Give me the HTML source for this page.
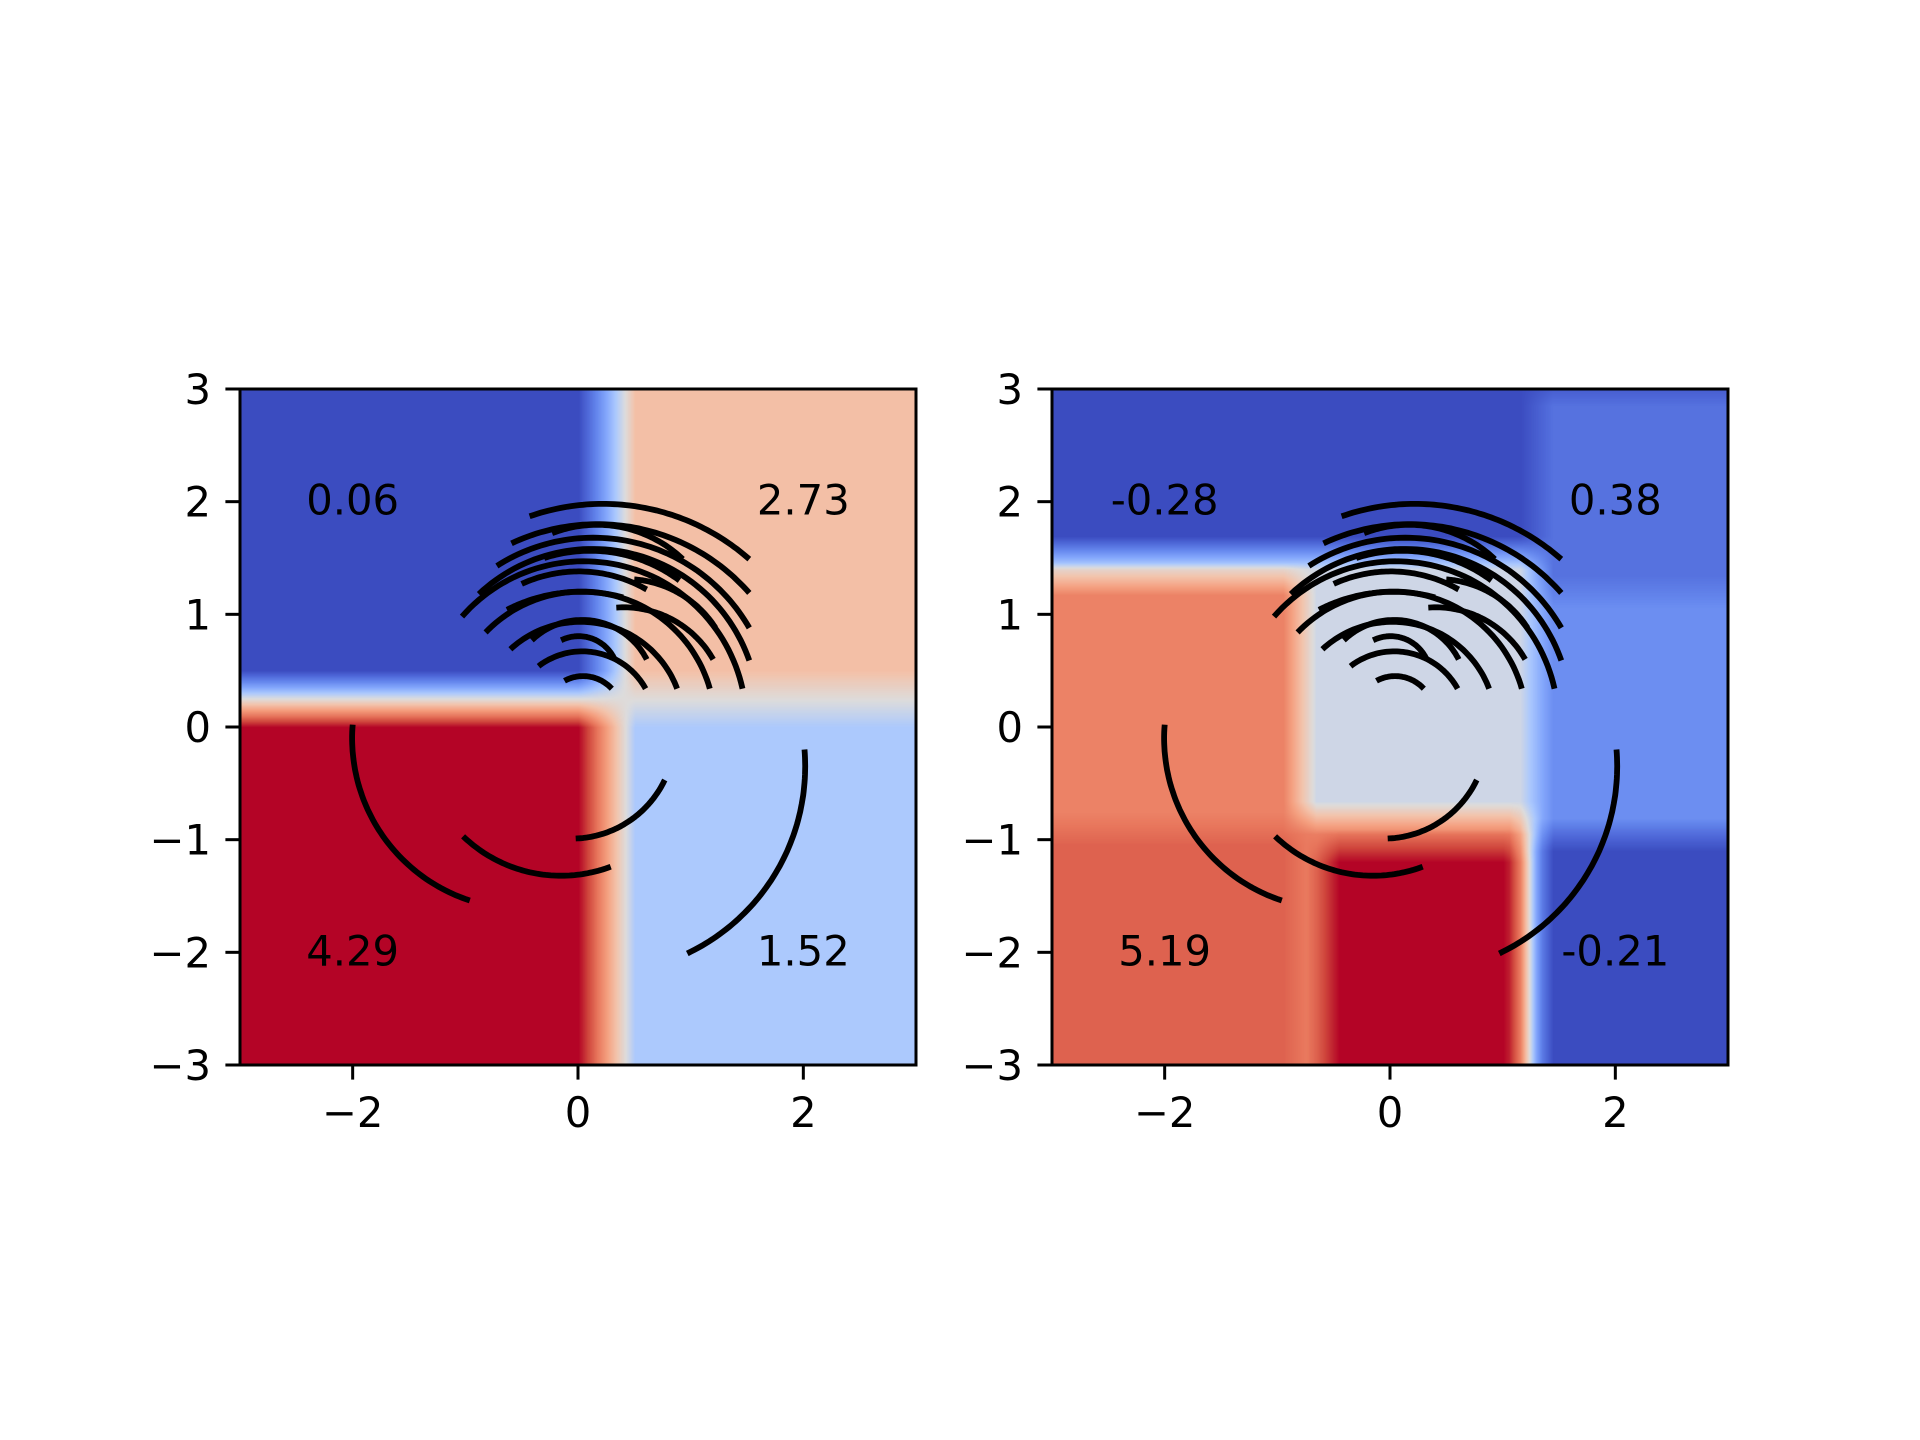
<!DOCTYPE html>
<html><head><meta charset="utf-8">
<style>
html,body{margin:0;padding:0;background:#fff;}
#wrap{position:relative;width:1920px;height:1440px;overflow:hidden;background:#fff;}
canvas{position:absolute;}
svg{position:absolute;left:0;top:0;}
text{font-family:"DejaVu Sans","Liberation Sans",sans-serif;font-size:41.7px;fill:#000;}
</style></head>
<body>
<div id="wrap">
<canvas id="c1" width="676" height="676" style="left:240px;top:389px"></canvas>
<canvas id="c2" width="676" height="676" style="left:1052px;top:389px"></canvas>
<svg id="svg" width="1920" height="1440"></svg>
</div>
<script>
// ---- data ----
const xTicks = [-2, 0, 2];
const yTicks = [-3, -2, -1, 0, 1, 2, 3];
const leftLabels = ["0.06", "2.73", "4.29", "1.52"];
const rightLabels = ["-0.28", "0.38", "5.19", "-0.21"];
const labelX = [-2, 2, -2, 2];
const labelY = [2, 2, -2, -2];
// left heatmap: quadrant normalized values (TL, TR, BL, BR) and split point
const leftQuadT = [0.0, 0.61, 1.0, 0.4];
const leftSplit = [0.25, 0.25];
// right heatmap: regions [x1,x2,y1,y2,t] painted in order
const rightRegions = [
  [-3, 3, -3, 3, 0.0],
  [-3, 1.3, -3, 1.55, 0.47],
  [-3, -0.8, -3, 1.32, 0.77],
  [-3, -0.8, -3, -0.9, 0.84],
  [-0.8, 1.2, -3, -0.8, 0.77],
  [-0.6, 1.15, -3, -1.05, 1.0],
  [1.3, 3, -0.95, 3, 0.13],
  [1.3, 3, -0.95, 1.2, 0.22]
];
// arcs: start, middle, end points in data coords
const arcStart = [[-2.0,0.02],[-1.02,-0.97],[-0.02,-0.99],[2.01,-0.2],
  [-0.12,0.41],[-0.35,0.54],[-0.60,0.69],[-0.82,0.84],[-1.03,0.98],
  [-0.88,1.18],[-0.72,1.43],[-0.59,1.63],[-0.43,1.87],
  [-0.41,0.77],[-0.15,0.77],[0.34,1.06],[-0.5,1.27],[0.5,1.31],[-0.23,1.72],[-0.63,1.04],[-0.3,1.5]];
const arcMid = [[-1.77,-0.91],[-0.14,-1.32],[0.54,-0.77],[1.77,-1.27],
  [0.08,0.45],[0.08,0.67],[0.1,0.93],[0.1,1.2],[0.1,1.47],
  [0.15,1.58],[0.15,1.68],[0.15,1.80],[0.18,1.98],
  [0.05,0.95],[0.07,0.80],[0.91,0.91],[0.05,1.38],[0.91,1.18],[0.27,1.79],[0.0,1.2],[0.3,1.55]];
const arcEnd = [[-0.96,-1.54],[0.29,-1.24],[0.77,-0.47],[0.97,-2.01],
  [0.3,0.34],[0.6,0.34],[0.88,0.34],[1.17,0.34],[1.46,0.34],
  [1.52,0.59],[1.52,0.88],[1.52,1.19],[1.52,1.49],
  [0.61,0.6],[0.32,0.61],[1.2,0.6],[0.61,1.22],[1.22,0.88],[0.93,1.49],[0.4,1.15],[0.9,1.3]];

// ---- geometry ----
const AX = [240, 1052], AY = 389, AS = 676;
const sx = (i, x) => AX[i] + (x + 3) / 6 * AS;
const sy = y => AY + (3 - y) / 6 * AS;

const cw = [[0,59,76,192],[0.1,79,105,217],[0.2,102,136,238],[0.3,132,167,252],[0.4,172,201,253],
  [0.5,221,220,220],[0.6,243,195,171],[0.7,244,158,126],[0.8,232,118,92],[0.9,207,69,60],[1,180,4,38]];
function cmap(t){
  t=Math.max(0,Math.min(1,t));
  for(let k=1;k<cw.length;k++){ if(t<=cw[k][0]){const a=cw[k-1],b=cw[k],f=(t-a[0])/(b[0]-a[0]);
    return [a[1]+f*(b[1]-a[1]),a[2]+f*(b[2]-a[2]),a[3]+f*(b[3]-a[3])];}}
  return cw[cw.length-1].slice(1);
}
function blur(arr,n,r){
  const tmp=new Float32Array(n*n), out=new Float32Array(n*n);
  for(let y=0;y<n;y++){for(let x=0;x<n;x++){let s=0;for(let k=-r;k<=r;k++){const xx=Math.min(n-1,Math.max(0,x+k));s+=arr[y*n+xx];}tmp[y*n+x]=s/(2*r+1);}}
  for(let x=0;x<n;x++){for(let y=0;y<n;y++){let s=0;for(let k=-r;k<=r;k++){const yy=Math.min(n-1,Math.max(0,y+k));s+=tmp[yy*n+x];}out[y*n+x]=s/(2*r+1);}}
  return out;
}
function render(id, field, r){
  const n=AS, c=document.getElementById(id), ctx=c.getContext('2d'), img=ctx.createImageData(n,n);
  const f=blur(field,n,r);
  for(let i=0;i<n*n;i++){const col=cmap(f[i]);img.data[i*4]=col[0];img.data[i*4+1]=col[1];img.data[i*4+2]=col[2];img.data[i*4+3]=255;}
  ctx.putImageData(img,0,0);
}
const n=AS;
const f1=new Float32Array(n*n);
for(let py=0;py<n;py++)for(let px=0;px<n;px++){
  const x=px/n*6-3, y=3-py/n*6;
  const top=y>leftSplit[1], left=x<leftSplit[0];
  f1[py*n+px]= top?(left?leftQuadT[0]:leftQuadT[1]):(left?leftQuadT[2]:leftQuadT[3]);
}
render('c1',f1,28);
const f2=new Float32Array(n*n);
for(let py=0;py<n;py++)for(let px=0;px<n;px++){
  const x=px/n*6-3, y=3-py/n*6; let t=0;
  for(const g of rightRegions){ if(x>=g[0]&&x<g[1]&&y>=g[2]&&y<g[3]) t=g[4]; }
  f2[py*n+px]=t;
}
render('c2',f2,16);

// ---- SVG overlay ----
const NS="http://www.w3.org/2000/svg", svg=document.getElementById('svg');
function mk(tag,attrs,parent){const e=document.createElementNS(NS,tag);for(const k in attrs)e.setAttribute(k,attrs[k]);(parent||svg).appendChild(e);return e;}
function circ(p1,p2,p3){
  const [ax,ay]=p1,[bx,by]=p2,[cx,cy]=p3;
  const d=2*(ax*(by-cy)+bx*(cy-ay)+cx*(ay-by));
  const ux=((ax*ax+ay*ay)*(by-cy)+(bx*bx+by*by)*(cy-ay)+(cx*cx+cy*cy)*(ay-by))/d;
  const uy=((ax*ax+ay*ay)*(cx-bx)+(bx*bx+by*by)*(ax-cx)+(cx*cx+cy*cy)*(bx-ax))/d;
  return [ux,uy,Math.hypot(ax-ux,ay-uy)];
}
for(let i=0;i<2;i++){
  const g=mk('g',{});
  
  
  for(let a=0;a<arcStart.length;a++){
    const [ux,uy,r]=circ(arcStart[a],arcMid[a],arcEnd[a]);
    const a1=Math.atan2(arcStart[a][1]-uy,arcStart[a][0]-ux);
    const am=Math.atan2(arcMid[a][1]-uy,arcMid[a][0]-ux);
    const a2=Math.atan2(arcEnd[a][1]-uy,arcEnd[a][0]-ux);
    const norm=v=>{while(v<0)v+=2*Math.PI;while(v>=2*Math.PI)v-=2*Math.PI;return v;};
    let span=norm(a2-a1), dir=1;
    if(norm(am-a1)>span){dir=-1;span=2*Math.PI-span;}
    let pts=[];
    for(let k=0;k<=60;k++){const th=a1+dir*span*k/60;pts.push(sx(i,ux+r*Math.cos(th)).toFixed(1)+','+sy(uy+r*Math.sin(th)).toFixed(1));}
    const pl=mk('polyline',{points:pts.join(' '),fill:'none',stroke:'#000','stroke-width':5.8,'stroke-linecap':'butt'},g);
    
    
  }
  const labs=i===0?leftLabels:rightLabels;
  for(let k=0;k<labs.length;k++){
    const t=mk('text',{x:sx(i,labelX[k]),y:sy(labelY[k])+13,'text-anchor':'middle'},g);
    t.textContent=labs[k];
    
    
  }
  const sp=mk('rect',{x:AX[i],y:AY,width:AS,height:AS,fill:'none',stroke:'#000','stroke-width':3},g);
  
  
  for(const v of xTicks){
    const X=sx(i,v);
    const tl=mk('line',{x1:X,x2:X,y1:AY+AS,y2:AY+AS+14.6,stroke:'#000','stroke-width':3},g);
    
    
    const tt=mk('text',{x:X,y:1127,'text-anchor':'middle'},g);
    tt.textContent=(v<0?'\u2212':'')+Math.abs(v);
    
    
  }
  for(const v of yTicks){
    const Y=sy(v);
    const tl=mk('line',{x1:AX[i]-14.6,x2:AX[i],y1:Y,y2:Y,stroke:'#000','stroke-width':3},g);
    
    
    const tt=mk('text',{x:AX[i]-29,y:Y+15,'text-anchor':'end'},g);
    tt.textContent=(v<0?'\u2212':'')+Math.abs(v);
    
    
  }
}
</script>
</body></html>
